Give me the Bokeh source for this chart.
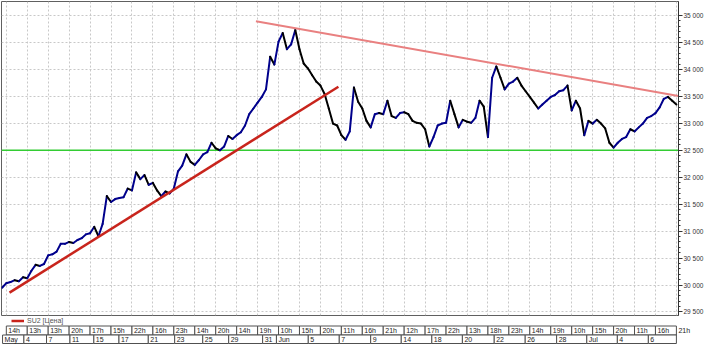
import numpy as np
from bokeh.plotting import figure
from bokeh.layouts import column
from bokeh.models import Range1d, FixedTicker, Grid, Legend, LegendItem, Span
from bokeh.embed import file_html
from bokeh.resources import INLINE
from bokeh.core.properties import value

# ---------------- data ----------------
bar_start = -1
prices = [
    29950, 30035, 30055, 30090, 30070, 30145, 30125, 30265, 30375, 30355,
    30390, 30550, 30570, 30620, 30765, 30765, 30800, 30780, 30835, 30870,
    30940, 30960, 31080, 30905, 31135, 31650, 31540, 31595, 31615, 31630,
    31790, 31755, 32090, 31965, 32040, 31860, 31895, 31755, 31650, 31735,
    31700, 31790, 32110, 32215, 32425, 32285, 32230, 32320, 32425, 32465,
    32640, 32535, 32500, 32570, 32765, 32710, 32780, 32835, 32960, 33170,
    33275, 33385, 33490, 33630, 34235, 34090, 34515, 34675, 34375, 34465,
    34730, 34375, 34110, 34020, 33895, 33775, 33700, 33545, 33275, 32995,
    32960, 32780, 32695, 32850, 33665, 33400, 33275, 33045, 32925, 33170,
    33190, 33170, 33420, 33135, 33100, 33190, 33205, 33170, 33045, 33010,
    32995, 32890, 32570, 32745, 32960, 32995, 33010, 33420, 33170, 32925,
    33065, 33030, 33010, 33100, 33420, 33310, 32745, 33845, 34055, 33845,
    33630, 33735, 33775, 33845, 33700, 33595, 33490, 33385, 33275, 33350,
    33420, 33490, 33525, 33595, 33615, 33700, 33240, 33420, 33275, 32780,
    33045, 32995, 33065, 32995, 32905, 32640, 32550, 32640, 32710, 32745,
    32890, 32850, 32925, 32995, 33100, 33135, 33190, 33295, 33455, 33490,
    33420, 33350,
]

resist_x = [59.6, 160.5]
resist_y = [34894, 33507]
support_x = [0.76, 79.3]
support_y = [29860, 33679]
level = 32500

y_ticks = list(range(29500, 35001, 500))
y_minor = list(range(29500, 35001, 100))

hour_ticks = list(range(0, 161, 5))
hour_labels = ["14h", "13h", "13h", "20h", "17h", "15h", "22h", "16h", "23h", "14h", "20h",
               "14h", "19h", "10h", "15h", "20h", "11h", "16h", "21h", "12h", "17h", "22h",
               "13h", "18h", "23h", "14h", "19h", "10h", "15h", "20h", "11h", "16h", "21h"]

date_ticks = [-0.9, 4.2, 9.6, 15.2, 20.9, 26.9, 33.9, 40.2, 46.9, 53.1, 61.2, 64.5,
              72.1, 79.5, 87.0, 94.3, 101.6, 108.9, 116.5, 123.9, 131.4, 138.6, 145.9, 153.3]
date_labels = ["May", "4", "7", "11", "15", "17", "21", "23", "25", "29", "31", "Jun",
               "5", "7", "9", "14", "18", "20", "22", "26", "28", "Jul", "4", "6"]

series_name = "SU2 [Цена]"

# ---------------- layout constants ----------------
W = 704
R = 26
FRAME_W = W - 1 - R
FRAME_H = 314
STRIP_H = 28
x0, x1 = -1.15, 160.5
y0, y1 = 29435, 35260
FONT = "Liberation Sans"
UP = "#00008c"
DOWN = "#000000"
SUPPORT_C = "#c8241c"
RESIST_C = "#e98080"
GREEN = "#33cc33"

# ---------------- main chart ----------------
p = figure(frame_width=FRAME_W, frame_height=FRAME_H,
           x_range=Range1d(x0, x1), y_range=Range1d(y0, y1),
           output_backend="svg", toolbar_location=None,
           x_axis_location=None, y_axis_location="right",
           min_border_left=1, min_border_right=R, min_border_top=1, min_border_bottom=1)
p.outline_line_color = "#606060"
p.outline_line_width = 1
p.background_fill_color = "white"
p.border_fill_color = "white"

ax = p.yaxis[0]
ax.ticker = FixedTicker(ticks=y_ticks, minor_ticks=y_minor)
ax.major_label_overrides = {v: f"{v:,}".replace(",", " ") for v in y_ticks}
ax.major_label_text_font = FONT
ax.major_label_text_font_size = "6.5px"
ax.major_label_text_color = "#333333"
ax.major_label_standoff = 1
ax.major_tick_in = 0
ax.major_tick_out = 4
ax.minor_tick_in = 0
ax.minor_tick_out = 2
ax.axis_line_color = "#333333"
ax.major_tick_line_color = "#333333"
ax.minor_tick_line_color = "#333333"

p.ygrid.grid_line_color = "#c8c8c8"
p.ygrid.grid_line_dash = "2 2"
p.xgrid.visible = False
p.add_layout(Grid(dimension=0, ticker=FixedTicker(ticks=hour_ticks),
                  grid_line_color="#c8c8c8", grid_line_dash="2 2"))

p.add_layout(Span(location=level, dimension="width", line_color=GREEN, line_width=1.5,
                  level="underlay"))

xs = np.arange(len(prices)) + bar_start
pa = np.array(prices, dtype=float)
seg_colors = np.where(pa[1:] >= pa[:-1], UP, DOWN).tolist()
p.segment(x0=xs[:-1], y0=pa[:-1], x1=xs[1:], y1=pa[1:], line_color=seg_colors,
          line_width=2, line_cap="round")

p.line(resist_x, resist_y, line_color=RESIST_C, line_width=2)
p.line(support_x, support_y, line_color=SUPPORT_C, line_width=2.5)

# ---------------- bottom strip (legend + date rows) ----------------
px_per_unit = FRAME_W / (x1 - x0)
s = figure(frame_width=W - 1, frame_height=STRIP_H,
           x_range=Range1d(x0, x0 + (W - 1) / px_per_unit), y_range=Range1d(0, STRIP_H),
           output_backend="svg", toolbar_location=None,
           x_axis_location=None, y_axis_location=None,
           min_border_left=1, min_border_right=0, min_border_top=0, min_border_bottom=0)
s.outline_line_color = None
s.xgrid.visible = False
s.ygrid.visible = False

row1_b, row1_t = 9.5, 18.5
row2_b, row2_t = 1.0, 9.5

s.quad(left=hour_ticks[:-1], right=hour_ticks[1:], bottom=row1_b, top=row1_t,
       fill_color="white", line_color="#505050", line_width=1)
s.text(x=hour_ticks, y=(row1_b + row1_t) / 2, text=hour_labels, x_offset=2,
       text_baseline="middle", text_align="left", text_font=value(FONT),
       text_font_size="7px", text_color="#222222")

s.quad(left=date_ticks, right=date_ticks[1:] + [hour_ticks[-1]], bottom=row2_b, top=row2_t,
       fill_color="white", line_color="#505050", line_width=1)
s.text(x=date_ticks, y=(row2_b + row2_t) / 2, text=date_labels, x_offset=2,
       text_baseline="middle", text_align="left", text_font=value(FONT),
       text_font_size="7px", text_color="#222222")

dummy = s.line(x=[x0 - 50, x0 - 40], y=[-50, -50], line_color=SUPPORT_C, line_width=2.5)
leg = Legend(items=[LegendItem(label=series_name, renderers=[dummy])],
             location=(9, 19), orientation="horizontal",
             background_fill_alpha=0, border_line_alpha=0,
             label_text_font=FONT, label_text_font_size="7px", label_text_color="#555555",
             glyph_width=13, glyph_height=7, label_height=7, label_standoff=3,
             padding=1, margin=0, spacing=0)
s.add_layout(leg)

layout = column(p, s, spacing=0)
open("out.html", "w").write(file_html(layout, INLINE))
